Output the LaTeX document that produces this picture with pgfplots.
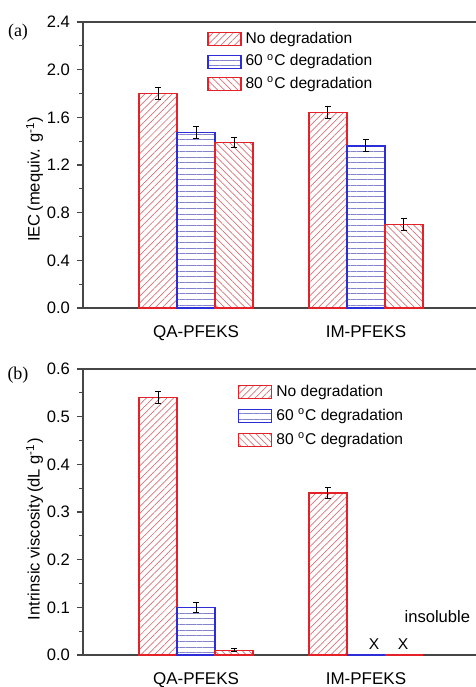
\documentclass[border=0pt]{standalone}
\usepackage{pgfplots}
\pgfplotsset{compat=1.18}
\usepackage{fontspec}
\setmainfont{Liberation Sans}
\newfontfamily\seriffont{Liberation Serif}
\usetikzlibrary{patterns.meta}
\definecolor{myred}{RGB}{228,32,40}
\definecolor{myblue}{RGB}{45,45,215}
\definecolor{hatchred}{RGB}{212,115,118}
\definecolor{hatchblue}{RGB}{130,130,205}
\definecolor{axisgray}{RGB}{70,70,70}

\pgfplotsset{
 myaxis/.style={
  scale only axis, width=198pt, height=143pt,
  xmin=-0.665, xmax=1.665,
  xtick={0,1}, xticklabels={QA-PFEKS,IM-PFEKS},
  major x tick style={draw=none},
  xticklabel style={font=\fontsize{8.5}{10}\selectfont, inner sep=0pt, yshift=-5.5pt},
  ytick pos=left, tick align=outside,
  major tick length=3pt, minor tick length=1.8pt,
  minor y tick num=1,
  axis line style={axisgray, line width=0.7pt},
  every tick/.style={axisgray, line width=0.6pt},
  yticklabel style={font=\fontsize{8.3}{10}\selectfont},
  /pgf/number format/assume math mode=true,
  /pgf/number format/fixed, /pgf/number format/fixed zerofill, /pgf/number format/precision=1,
  ylabel style={font=\fontsize{8.3}{10}\selectfont},
  ylabel shift=-5pt,
  ybar, bar width=19pt,
  legend style={draw=none, fill=none, font=\fontsize{7.8}{9}\selectfont, row sep=0pt, cells={anchor=west}, inner sep=0pt},
  legend cell align=left,
 },
 mylegend/.style={legend image code/.code={\draw[##1] (0pt,-3.25pt) rectangle (16.5pt,3.25pt);}},
 errs/.style={error bars/y dir=both, error bars/y explicit,
  error bars/error mark=|,
  error bars/error bar style={black, line width=0.5pt},
  error bars/error mark options={black, line width=0.5pt, mark size=1.6pt}},
 s1/.style={draw=myred, line width=0.6pt, pattern={Lines[angle=45,distance=2.4pt,line width=0.35pt]}, pattern color=hatchred, bar shift=-19pt, mylegend},
 s2/.style={draw=myblue, line width=0.6pt, pattern={Lines[angle=0,distance=2.85pt,line width=0.35pt]}, pattern color=hatchblue, bar shift=0pt, mylegend},
 s3/.style={draw=myred, line width=0.6pt, pattern={Lines[angle=-45,distance=2.4pt,line width=0.35pt]}, pattern color=hatchred, bar shift=19pt, mylegend},
}

\begin{document}
\begin{tikzpicture}
\useasboundingbox (0,0) rectangle (238pt,-343.5pt);
\clip (0,0) rectangle (238pt,-343.5pt);

% ---- panel (a)
\begin{axis}[myaxis, at={(41.5pt,-154pt)}, anchor=south west,
  ymin=0, ymax=2.4, ytick={0,0.4,...,2.4},
  ylabel={IEC\,(mequiv. g\textsuperscript{-1})},
  ylabel style={at={(ticklabel cs:0.45)}},
  legend style={at={(rel axis cs:0.313,0.98)}, anchor=north west}]
\addplot[s1, errs] coordinates {(0,1.80) +- (0,0.05) (1,1.64) +- (0,0.05)};
\addlegendentry{No degradation}
\addplot[s2, errs] coordinates {(0,1.47) +- (0,0.05) (1,1.36) +- (0,0.05)};
\addlegendentry{60 \textsuperscript{o}C degradation}
\addplot[s3, errs] coordinates {(0,1.39) +- (0,0.045) (1,0.70) +- (0,0.05)};
\addlegendentry{80 \textsuperscript{o}C degradation}
\end{axis}
\node[font=\seriffont\fontsize{9}{10}\selectfont] at (9pt,-16pt) {(a)};

% ---- panel (b)
\begin{axis}[myaxis, at={(41.5pt,-327.5pt)}, anchor=south west,
  ymin=0, ymax=0.6, ytick={0,0.1,...,0.6},
  ylabel={Intrinsic viscosity\,(dL g\textsuperscript{-1})},
  ylabel style={at={(ticklabel cs:0.44)}},
  legend style={at={(rel axis cs:0.391,0.96)}, anchor=north west, row sep=0.8pt}]
\addplot[s1, errs] coordinates {(0,0.54) +- (0,0.012) (1,0.34) +- (0,0.011)};
\addlegendentry{No degradation}
\addplot[s2, errs] coordinates {(0,0.10) +- (0,0.01)};
\addlegendentry{60 \textsuperscript{o}C degradation}
\addplot[s3, errs] coordinates {(0,0.01) +- (0,0.003)};
\addlegendentry{80 \textsuperscript{o}C degradation}
\addplot[s2, forget plot] coordinates {(1,0)};
\addplot[s3, forget plot] coordinates {(1,0)};
\node[font=\fontsize{8.3}{10}\selectfont] at (axis cs:1.42,0.0815) {insoluble};
\node[font=\fontsize{7.8}{9}\selectfont] at (axis cs:1.047,0.023) {X};
\node[font=\fontsize{7.8}{9}\selectfont] at (axis cs:1.218,0.023) {X};
\end{axis}
\node[font=\seriffont\fontsize{9}{10}\selectfont] at (9pt,-187.5pt) {(b)};
\end{tikzpicture}
\end{document}
